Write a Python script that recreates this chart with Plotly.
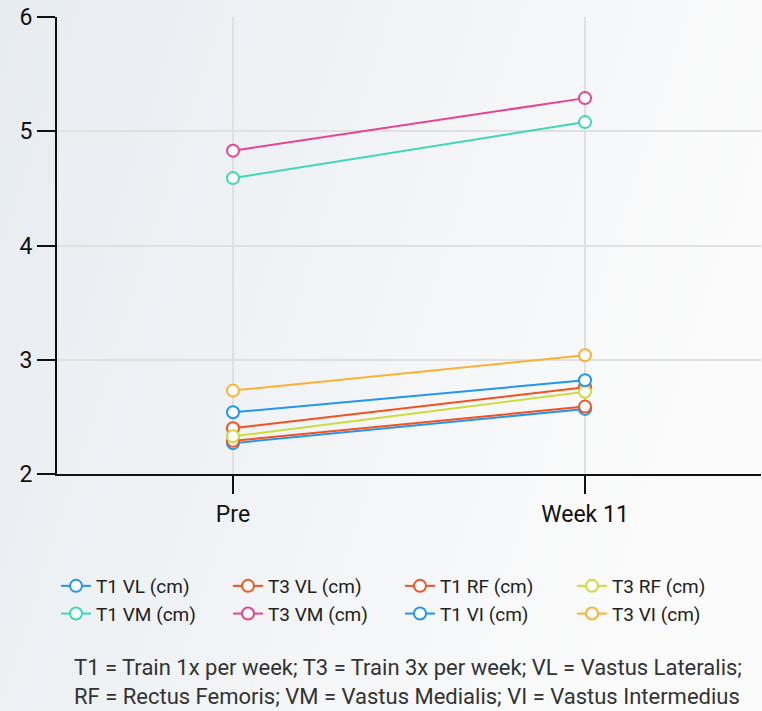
import base64
import plotly.graph_objects as go

categories = ["Pre", "Week 11"]
series_names = ["T1 VL (cm)", "T3 VL (cm)", "T1 RF (cm)", "T3 RF (cm)",
                "T1 VM (cm)", "T3 VM (cm)", "T1 VI (cm)", "T3 VI (cm)"]
t1_vl = [2.27, 2.57]
t3_vl = [2.29, 2.59]
t1_rf = [2.40, 2.76]
t3_rf = [2.33, 2.72]
t1_vm = [4.59, 5.08]
t3_vm = [4.83, 5.29]
t1_vi = [2.54, 2.82]
t3_vi = [2.73, 3.04]
series_values = [t1_vl, t3_vl, t1_rf, t3_rf, t1_vm, t3_vm, t1_vi, t3_vi]
colors = ["#2196f3", "#f4511e", "#f4511e", "#cddc39",
          "#3ed8b8", "#e84393", "#2196f3", "#f9b233"]
y_ticks = [2, 3, 4, 5, 6]
footnote = ("T1 = Train 1x per week; T3 = Train 3x per week; VL = Vastus Lateralis;<br>"
            "RF = Rectus Femoris; VM = Vastus Medialis; VI = Vastus Intermedius")

W, H = 762, 711
ML, MR, MT, MB = 57, 1, 17, 237
PW, PH = W - ML - MR, H - MT - MB

font_main = "Roboto, sans-serif"

fig = go.Figure()
for name, vals, col in zip(series_names, series_values, colors):
    fig.add_trace(go.Scatter(
        x=categories, y=vals, name=name, mode="lines+markers",
        line=dict(color=col, width=2),
        marker=dict(symbol="circle", size=12, color="white",
                    line=dict(color=col, width=2)),
    ))

svg = (f'<svg xmlns="http://www.w3.org/2000/svg" width="{W}" height="{H}">'
       '<defs><linearGradient id="g" x1="0" y1="0" x2="1" y2="0.3">'
       '<stop offset="0" stop-color="#e7ecf1"/><stop offset="1" stop-color="#fbfbfb"/>'
       '</linearGradient></defs>'
       f'<rect width="{W}" height="{H}" fill="url(#g)"/></svg>')
src = "data:image/svg+xml;base64," + base64.b64encode(svg.encode()).decode()

fig.add_layout_image(dict(
    source=src, xref="paper", yref="paper",
    x=-ML / PW, y=1 + MT / PH, sizex=W / PW, sizey=H / PH,
    xanchor="left", yanchor="top", sizing="stretch", layer="below",
))

fig.add_annotation(
    text=footnote, xref="paper", yref="paper",
    x=(72 - ML) / PW, y=-(653 - 474) / PH, xanchor="left", yanchor="top",
    align="left", showarrow=False,
    font=dict(family="Roboto, sans-serif", size=22, color="#333333"),
)

fig.update_layout(
    width=W, height=H,
    margin=dict(l=ML, r=MR, t=MT, b=MB, autoexpand=False),
    paper_bgcolor="#f1f4f7", plot_bgcolor="rgba(0,0,0,0)",
    font=dict(family=font_main, color="#111111"),
    legend=dict(orientation="h", x=(56 - ML) / PW, y=-(567 - 474) / PH,
                xanchor="left", yanchor="top", entrywidth=127,
                font=dict(size=19, color="#222222"),
                bgcolor="rgba(0,0,0,0)", tracegroupgap=0),
    xaxis=dict(type="category", range=[-0.5, 1.5], showline=True, automargin=False,
               linecolor="#111111", linewidth=2, ticks="outside", ticklen=18,
               tickwidth=2, tickcolor="#111111", showgrid=True,
               gridcolor="#e0e0e0", gridwidth=2,
               tickfont=dict(size=23, color="#111111"), zeroline=False),
    yaxis=dict(range=[2, 6], tickvals=y_ticks, showline=True, automargin=False,
               linecolor="#111111", linewidth=2, ticks="outside", ticklen=18,
               tickwidth=2, tickcolor="#111111", showgrid=True,
               gridcolor="#e0e0e0", gridwidth=2,
               tickfont=dict(size=23, color="#111111"), zeroline=False),
)

fig.write_html("out.html", config={"displayModeBar": False},
               post_script="document.body.style.margin='0';document.documentElement.style.margin='0';")
